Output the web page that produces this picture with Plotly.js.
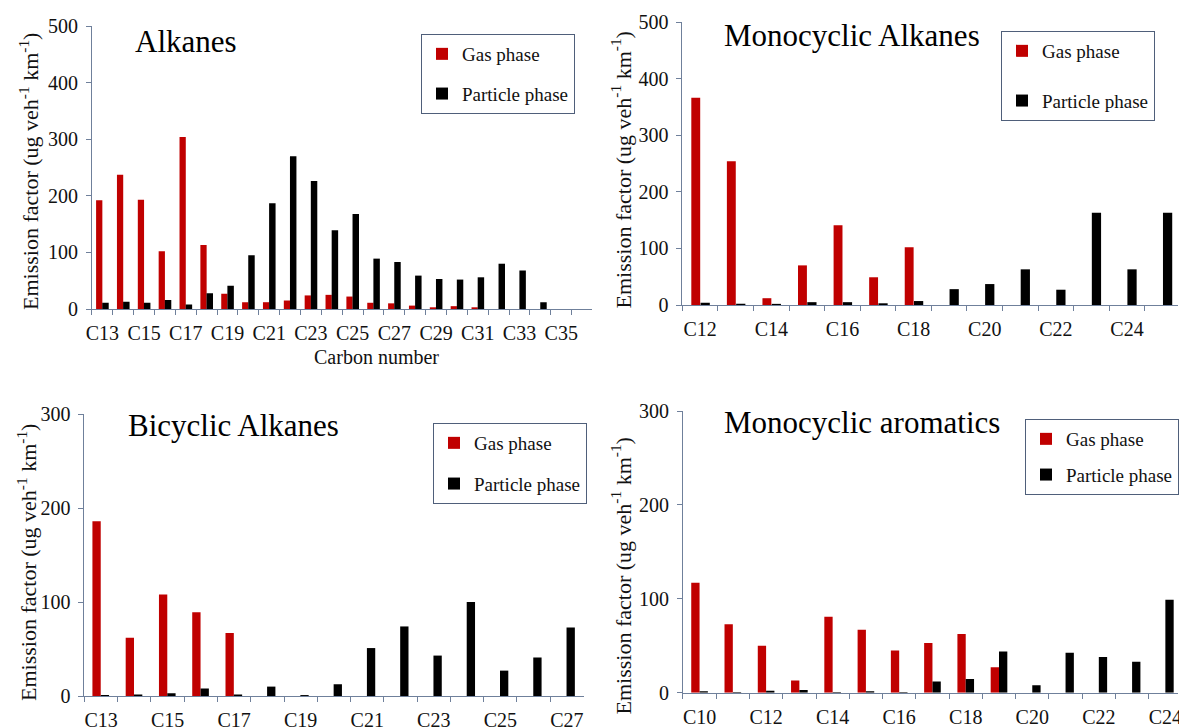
<!DOCTYPE html>
<html>
<head>
<meta charset="utf-8">
<script src="https://cdn.plot.ly/plotly-3.0.1.min.js"></script>
<style>html,body{margin:0;padding:0;background:#fff;}#chart{width:1179px;height:727px;}</style>
</head>
<body>
<div id="chart"></div>
<script>
// ---- Data ----
const alkCats = ["C13","C14","C15","C16","C17","C18","C19","C20","C21","C22","C23","C24","C25","C26","C27","C28","C29","C30","C31","C32","C33","C34","C35","C36"];
const alkGas = [192,237,193,102,304,113,27,12,12,15,24,25,22,11,10,6,3,5,3,0,0,0,0,0];
const alkParticle = [11,13,11,16,8,28,41,95,187,270,226,139,168,89,83,59,53,52,56,80,68,12,0,0];

const monoCats = ["C12","C13","C14","C15","C16","C17","C18","C19","C20","C21","C22","C23","C24","C25"];
const monoGas = [366,254,12,70,141,49,102,0,0,0,0,0,0,0];
const monoParticle = [4,2,2,5,5,3,7,28,37,63,27,163,63,163];

const biCats = ["C13","C14","C15","C16","C17","C18","C19","C20","C21","C22","C23","C24","C25","C26","C27"];
const biGas = [186,62,108,89,67,0,0,0,0,0,0,0,0,0,0];
const biParticle = [1,1.5,3,8,1.5,10,1,12.5,51,74,43,100,27,41,73];

const aroCats = ["C10","C11","C12","C13","C14","C15","C16","C17","C18","C19","C20","C21","C22","C23","C24"];
const aroGas = [117,73,50,13,81,67,45,53,62.5,27,0,0,0,0,0];
const aroParticle = [1.5,0.7,2,3,0.7,1.5,0.7,12,14.5,44,8,42.5,38,33,99];

const panelTitles = ["Alkanes","Monocyclic Alkanes","Bicyclic Alkanes","Monocyclic aromatics"];
const seriesNames = ["Gas phase","Particle phase"];
const yTitle = "Emission factor (ug veh<sup>-1</sup> km<sup>-1</sup>)";
const xTitle = "Carbon number";

// ---- Styling ----
const W = 1179, H = 727;
const FONT = "Liberation Serif";
const RED = "#C00000", BLACK = "#000000";
const AX = "#6f809b";
const px = v => v / W;
const py = v => 1 - v / H;

const panels = [
  {cats: alkCats, gas: alkGas, part: alkParticle, xd: [92, 593], y0: 309, yT: 26, ymax: 500,
   xr: [-0.5, alkCats.length - 0.5], bw: [0.3, 0.31], off: [-0.3, -0.005], leg: [421, 34], gap: 12,
   title: [133, 42], yt: [29, 171]},
  {cats: monoCats, gas: monoGas, part: monoParticle, xd: [683, 1179], y0: 305, yT: 22, ymax: 500,
   xr: [-0.5, -0.5 + (1179 - 683) / 35.6], bw: [0.25, 0.26], off: [-0.25, 0.01], leg: [1001, 31], gap: 22,
   title: [723, 35], yt: [622, 170]},
  {cats: biCats, gas: biGas, part: biParticle, xd: [84.5, 584], y0: 696, yT: 414, ymax: 300,
   xr: [-0.5, biCats.length - 0.5], bw: [0.25, 0.25], off: [-0.26, -0.01], leg: [433, 423], gap: 13,
   title: [126, 425], yt: [27, 562]},
  {cats: aroCats, gas: aroGas, part: aroParticle, xd: [683.5, 1179], y0: 692.7, yT: 411, ymax: 300,
   xr: [-0.5, -0.5 + (1179 - 683.5) / 33.3], bw: [0.25, 0.25], off: [-0.25, 0.0], leg: [1026, 419], gap: 8,
   title: [723, 422], yt: [622, 576]}
];

const data = [];
const layout = {
  width: W, height: H,
  margin: {l: 0, r: 0, t: 0, b: 0},
  paper_bgcolor: "#ffffff", plot_bgcolor: "#ffffff",
  barmode: "overlay",
  showlegend: true,
  font: {family: FONT, color: "#000", size: 19},
  annotations: []
};

panels.forEach((p, i) => {
  const n = i === 0 ? "" : String(i + 1);
  const legName = "legend" + n;
  [p.gas, p.part].forEach((vals, k) => {
    data.push({
      type: "bar",
      x: p.cats, y: vals,
      name: seriesNames[k],
      xaxis: "x" + n, yaxis: "y" + n,
      legend: legName,
      legendgroup: "g" + i + "_" + k,
      width: p.bw[k], offset: p.off[k],
      marker: {color: k === 0 ? RED : BLACK, line: {width: 0}},
      hoverinfo: "x+y+name"
    });
  });
  layout["xaxis" + n] = {
    domain: [px(p.xd[0]), px(p.xd[1])],
    anchor: "y" + n,
    type: "category",
    range: p.xr,
    tickmode: "array",
    tickvals: p.cats,
    ticktext: p.cats.map((c, j) => j % 2 === 0 ? c : ""),
    tickson: "boundaries",
    ticks: "outside", ticklen: 5, tickwidth: 1, tickcolor: AX,
    showline: true, linecolor: AX, linewidth: 1,
    showgrid: false, zeroline: false,
    tickangle: 0,
    ticklabelstandoff: 6,
    tickfont: {family: FONT, size: 20, color: "#111"},
    fixedrange: true
  };
  layout["yaxis" + n] = {
    domain: [py(p.y0), py(p.yT)],
    anchor: "x" + n,
    range: [0, p.ymax],
    dtick: 100, tick0: 0,
    ticks: "outside", ticklen: 5, tickwidth: 1, tickcolor: AX,
    showline: true, linecolor: AX, linewidth: 1,
    showgrid: false, zeroline: false,
    ticklabelstandoff: 4,
    tickfont: {family: FONT, size: 20, color: "#111"},
    fixedrange: true
  };
  layout[legName] = {
    x: px(p.leg[0]), y: py(p.leg[1]), xanchor: "left", yanchor: "top",
    bgcolor: "#ffffff", bordercolor: "#4f5f7a", borderwidth: 1,
    font: {family: FONT, size: 19, color: "#111"},
    tracegroupgap: p.gap,
    traceorder: "grouped",
    itemwidth: 30
  };
  layout.annotations.push({
    xref: "paper", yref: "paper",
    x: px(p.title[0]), y: py(p.title[1]),
    xanchor: "left", yanchor: "middle",
    text: panelTitles[i], showarrow: false,
    font: {family: FONT, size: 31, color: "#000"}
  });
  layout.annotations.push({
    xref: "paper", yref: "paper",
    x: px(p.yt[0]), y: py(p.yt[1]),
    xanchor: "center", yanchor: "middle",
    textangle: -90,
    text: yTitle, showarrow: false,
    font: {family: FONT, size: 22, color: "#111"}
  });
});

layout.annotations.push({
  xref: "paper", yref: "paper",
  x: px(377), y: py(357), xanchor: "center", yanchor: "middle",
  text: xTitle, showarrow: false,
  font: {family: FONT, size: 20, color: "#111"}
});

Plotly.newPlot("chart", data, layout, {displayModeBar: false, staticPlot: true});
</script>
</body>
</html>
